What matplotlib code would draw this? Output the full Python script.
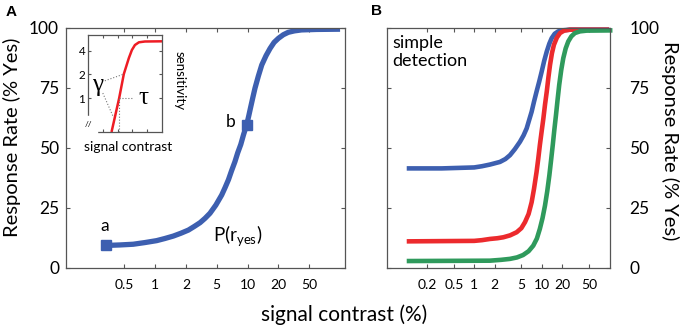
import numpy as np
import matplotlib
matplotlib.use('Agg')
import matplotlib.pyplot as plt

plt.rcParams['font.family'] = ['Lato', 'DejaVu Sans']

# panel A: x is the position on the evenly spaced tick scale
a_ticks = [0, 1, 2, 3, 4, 5, 6]
a_ticklabels = ['0.5', '1', '2', '5', '10', '20', '50']
a_x = [-0.59, -0.15, 0.29, 0.67, 1.05, 1.32, 1.59, 1.84, 2.08, 2.27, 2.46, 2.62, 2.78, 2.97,
       3.16, 3.27, 3.38, 3.48, 3.59, 3.68, 3.78, 3.87, 3.97, 4.04, 4.10, 4.17, 4.24, 4.35,
       4.46, 4.60, 4.73, 4.86, 5.0, 5.16, 5.32, 5.52, 5.75, 6.0, 6.24, 7.0]
a_y = [9.4, 9.6, 9.9, 10.6, 11.4, 12.3, 13.3, 14.5, 15.8, 17.3, 18.9, 20.7, 22.8, 26.2,
       30.4, 33.5, 36.8, 40.5, 44.3, 48.0, 51.5, 55.6, 59.6, 63.5, 67.0, 71.0, 74.9, 80.0,
       84.6, 88.5, 91.5, 94.0, 95.7, 97.2, 98.2, 98.8, 99.2, 99.3, 99.4, 99.5]
pt_a = (-0.59, 9.6)
pt_b = (3.97, 59.6)

# inset: sensitivity vs signal contrast
ins_x = [0.318, 0.421, 0.484, 0.552, 0.593, 0.634, 0.688, 0.769, 1.0]
ins_y = [0.373, 1.0, 2.02, 3.22, 4.07, 4.71, 5.10, 5.22, 5.25]

# panel B: signal contrast (%) vs response rate
b_ticks = [0.2, 0.5, 1, 2, 5, 10, 20, 50]
blue_x = [0.1, 0.33, 1.0, 1.3, 1.71, 2.41, 2.9, 3.39, 4.0, 4.77, 5.4, 6.0, 6.5, 7.1, 7.7,
          8.4, 9.2, 10.0, 10.9, 11.9, 13.0, 14.1, 15.6, 17.6, 20.0, 26.3, 100]
blue_y = [41.5, 41.5, 41.9, 42.4, 43.1, 44.2, 45.4, 47.0, 49.5, 52.6, 55.3, 58.2, 61.5, 65.1,
          69.3, 73.5, 77.7, 81.8, 86.3, 90.2, 93.5, 95.8, 97.6, 98.6, 99.0, 99.3, 99.3]
red_x = [0.1, 1.0, 1.3, 1.71, 2.2, 2.7, 3.4, 4.26, 5.0, 5.66, 6.4, 7.1, 7.7, 8.4, 8.9, 9.4,
         10.0, 10.6, 11.2, 11.9, 12.6, 13.3, 14.2, 15.2, 16.8, 18.7, 21.5, 26.3, 100]
red_y = [11.1, 11.3, 11.6, 12.1, 12.4, 12.8, 13.6, 14.9, 16.6, 19.1, 22.5, 27.4, 33.0, 40.0,
         45.5, 51.2, 57.0, 62.3, 68.0, 73.5, 79.5, 84.6, 89.5, 93.0, 96.0, 97.9, 98.9, 99.3, 99.3]
green_x = [0.1, 1.71, 2.5, 3.39, 4.3, 5.3, 6.4, 7.5, 8.5, 9.4, 10.3, 11.2, 12.1, 13.0, 13.8,
           14.6, 15.4, 16.3, 17.2, 18.2, 19.5, 20.9, 22.7, 24.8, 27.5, 31.1, 37.0, 46.4, 112]
green_y = [2.9, 3.05, 3.4, 3.8, 4.4, 5.4, 7.0, 9.3, 12.3, 16.3, 20.8, 26.0, 32.0, 38.6, 45.0,
           51.2, 57.5, 63.7, 70.0, 76.3, 82.5, 87.4, 91.5, 94.4, 96.5, 97.9, 98.6, 98.9, 99.0]

blue = '#3d5fb0'
red = '#ec2a2d'
green = '#2f9a5c'

W, H = 680, 330
fig = plt.figure(figsize=(6.8, 3.3), dpi=100)


def box(l, t, r, b):
    return [l / W, 1 - b / H, (r - l) / W, (b - t) / H]


def style(ax):
    for s in ax.spines.values():
        s.set_color('#555555')
        s.set_linewidth(0.9)
    ax.tick_params(which='both', direction='in', length=3, color='#555555',
                   top=True, right=True, bottom=True, left=True)


line = dict(solid_capstyle='butt', solid_joinstyle='round')

# ---- panel A
axA = fig.add_axes(box(66, 28, 345, 268))
axA.plot(a_x, a_y, color=blue, lw=3.8, **line)
axA.plot(*pt_a, marker='s', ms=7, color=blue)
axA.plot(*pt_b, marker='s', ms=7, color=blue)
axA.text(pt_a[0] - 0.06, pt_a[1] + 4.5, 'a', fontsize=12.5, ha='center', va='bottom')
axA.text(pt_b[0] - 0.35, pt_b[1] + 1.2, 'b', fontsize=12.5, ha='right', va='center')
axA.text(3.67, 13, 'P(r$_\\mathregular{yes}$)', fontsize=13.5, ha='center', va='center')
axA.set_xlim(-1.89, 7.16)
axA.set_ylim(0, 100)
axA.set_xticks(a_ticks)
axA.set_xticklabels(a_ticklabels, fontsize=10)
axA.set_yticks([0, 25, 50, 75, 100])
axA.set_yticklabels(['0', '25', '50', '75', '100'], fontsize=12.5)
style(axA)
axA.tick_params(axis='x', pad=8)
axA.tick_params(axis='y', pad=5)

# ---- inset
axI = fig.add_axes(box(88, 35, 162, 132))
axI.plot(ins_x, ins_y, color='#ee1c24', lw=1.8, **line)
axI.set_yscale('log', base=2)
axI.set_xlim(0, 1)
axI.set_ylim(0.373, 6.31)
axI.set_yticks([1, 2, 4])
axI.set_yticklabels(['1', '2', '4'], fontsize=8.5)
axI.yaxis.set_minor_locator(matplotlib.ticker.NullLocator())
axI.set_xticks([0.2, 0.4, 0.6, 0.8])
axI.set_xticklabels([])
style(axI)
axI.tick_params(length=2, pad=2)
dot = dict(color='#777777', ls=':', lw=0.8)
axI.plot([0.421, 0.421], [0.373, 1.0], **dot)
axI.plot([0.421, 0.61], [1.0, 1.0], **dot)
axI.plot([0.228, 0.484], [1.66, 2.02], **dot)
axI.plot([0.2, 0.34], [1.16, 0.585], **dot)
greek = ['Liberation Serif', 'DejaVu Serif']
axI.text(0.746, 1.0, 'τ', fontsize=18, ha='center', va='center', family=greek)
axI.text(0.136, 1.45, 'γ', fontsize=18, ha='center', va='center', family=greek)
axI.text(0.0, 0.458, '//', fontsize=6, ha='center', va='center',
         backgroundcolor='white')
fig.text(128 / W, 1 - 147 / H, 'signal contrast', fontsize=10, ha='center', va='center')
fig.text(180 / W, 1 - 81 / H, 'sensitivity', fontsize=9.5, ha='center', va='center',
         rotation=-90)

# ---- panel B
axB = fig.add_axes(box(387, 28, 610, 268))
axB.plot(blue_x, blue_y, color=blue, lw=3.3, clip_on=False, **line)
axB.plot(red_x, red_y, color=red, lw=3.3, clip_on=False, **line)
axB.plot(green_x, green_y, color=green, lw=3.3, clip_on=False, **line)
axB.set_xscale('log')
axB.set_xlim(0.051, 103)
axB.set_ylim(0, 100)
axB.set_xticks(b_ticks)
axB.set_xticklabels(['0.2', '0.5', '1', '2', '5', '10', '20', '50'], fontsize=10)
axB.xaxis.set_minor_locator(matplotlib.ticker.NullLocator())
axB.set_yticks([0, 25, 50, 75, 100])
axB.set_yticklabels(['0', '25', '50', '75', '100'], fontsize=12.5)
style(axB)
axB.yaxis.tick_right()
axB.tick_params(axis='y', left=True, right=True, labelleft=False, labelright=True, pad=14)
axB.tick_params(axis='x', pad=8)
axB.text(0.025, 0.97, 'simple\ndetection', transform=axB.transAxes, fontsize=13,
         ha='left', va='top', linespacing=1.1)

# ---- labels
fig.text(344 / W, 1 - 315 / H, 'signal contrast (%)', fontsize=15, ha='center', va='center')
fig.text(12 / W, 1 - 137 / H, 'Response Rate (% Yes)', fontsize=14.5, ha='center',
         va='center', rotation=90)
fig.text(670 / W, 1 - 141 / H, 'Response Rate (% Yes)', fontsize=14.5, ha='center',
         va='center', rotation=-90)
fig.text(11 / W, 1 - 12 / H, 'A', fontsize=11, fontweight='bold', ha='center', va='center',
         family=['Liberation Sans', 'DejaVu Sans'])
fig.text(377 / W, 1 - 11 / H, 'B', fontsize=11, fontweight='bold', ha='center', va='center',
         family=['Liberation Sans', 'DejaVu Sans'])

fig.savefig('out.png', dpi=100)
